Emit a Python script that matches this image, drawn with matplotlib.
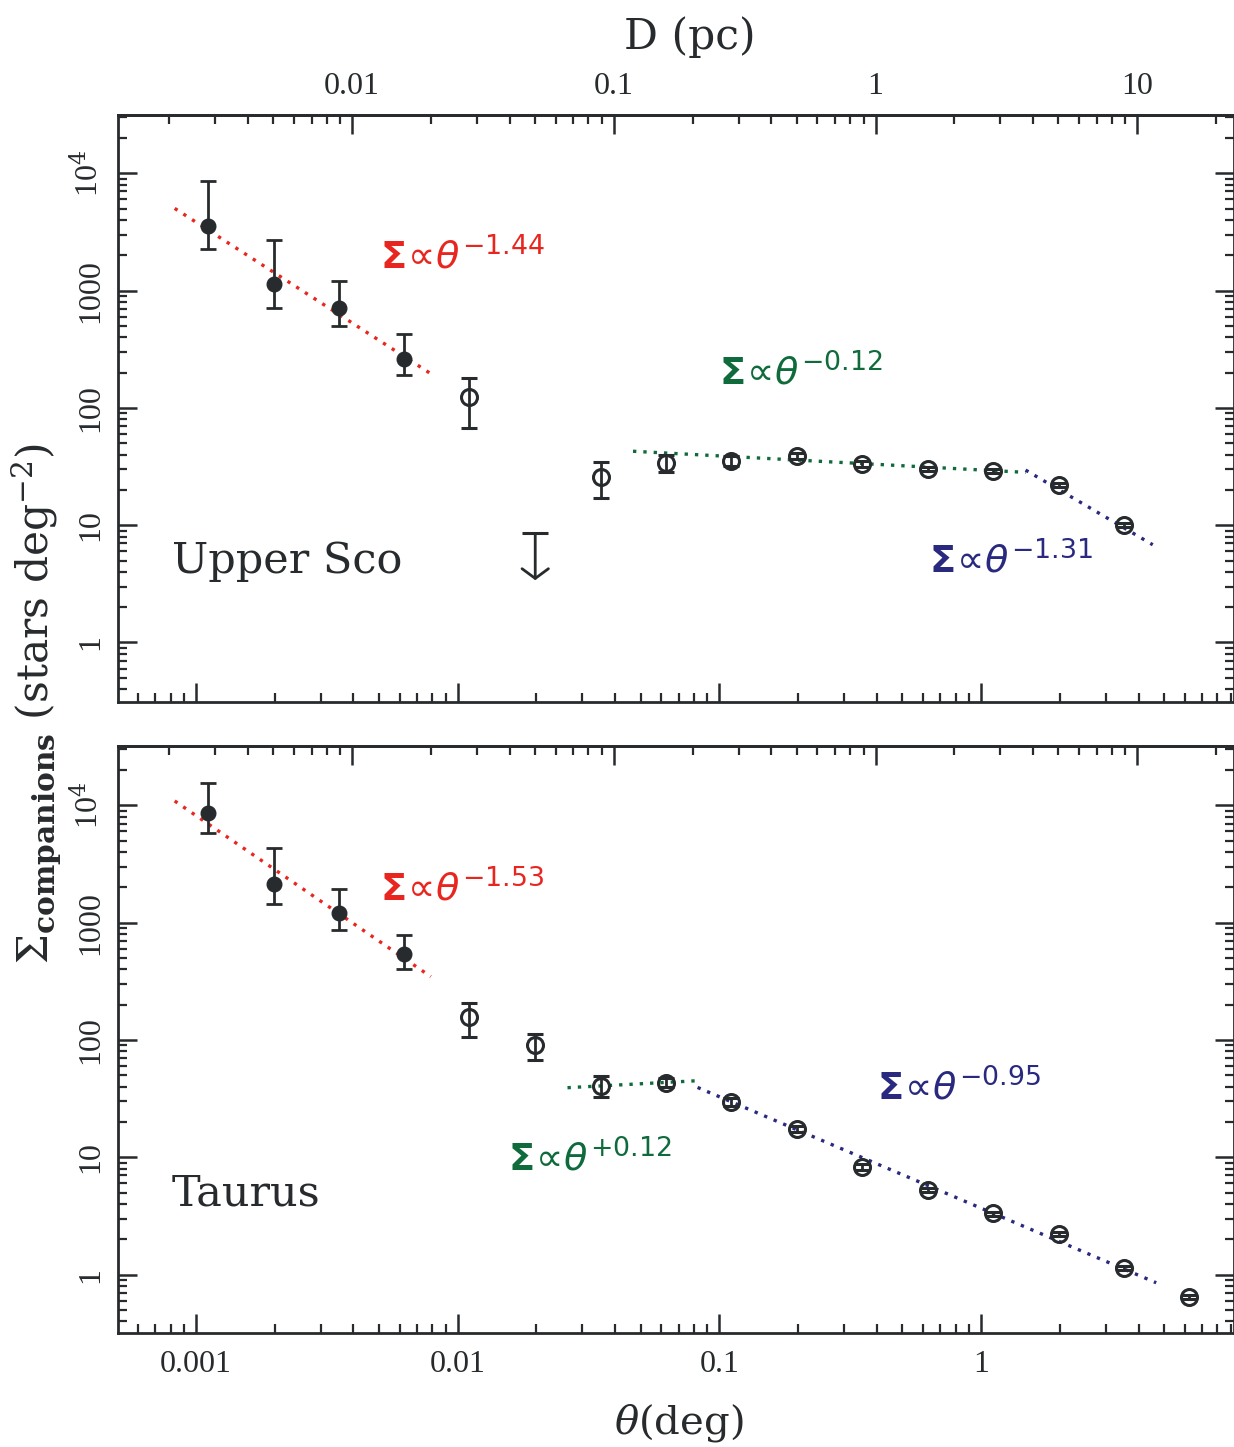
import matplotlib
matplotlib.use("Agg")
import numpy as np
import matplotlib.pyplot as plt
from matplotlib.ticker import FixedLocator, FixedFormatter, LogLocator, NullFormatter

# ---------------- data ----------------
PC_PER_DEG = 2.53  # D (pc) per degree at Upper Sco distance

usco_theta_filled = [0.00111, 0.00198, 0.00352, 0.00625]
usco_sig_filled = [3575, 1130, 713, 262]
usco_hi_filled = [8570, 2680, 1197, 423]
usco_lo_filled = [2250, 710, 501, 191]

usco_theta_open = [0.0111, 0.0352, 0.0625, 0.111, 0.198, 0.352, 0.625, 1.11, 1.98, 3.52]
usco_sig_open = [124, 25.8, 34.0, 35.1, 38.9, 33.1, 30.0, 28.8, 21.8, 10.1]
usco_hi_open = [180, 34.6, 40.0, 38.8, 41.3, 35.1, 31.2, 30.0, 22.7, 10.5]
usco_lo_open = [67.5, 17.1, 28.5, 31.8, 36.6, 31.2, 28.8, 27.7, 21.0, 9.7]

usco_limit_theta = [0.0198]
usco_limit_top = [8.5]
usco_limit_tip = [3.4]

tau_theta_filled = [0.00111, 0.00198, 0.00352, 0.00625]
tau_sig_filled = [8550, 2135, 1200, 537]
tau_hi_filled = [15400, 4300, 1923, 783]
tau_lo_filled = [5840, 1432, 859, 405]

tau_theta_open = [0.0111, 0.0198, 0.0352, 0.0625, 0.111, 0.198, 0.352, 0.625, 1.11, 1.98, 3.52, 6.25]
tau_sig_open = [158, 90.6, 40.7, 43.2, 29.7, 17.3, 8.3, 5.25, 3.32, 2.24, 1.14, 0.64]
tau_hi_open = [205, 112, 49.2, 47.0, 32.1, 18.4, 8.8, 5.46, 3.45, 2.33, 1.19, 0.665]
tau_lo_open = [106, 67.5, 32.8, 39.5, 27.5, 16.3, 7.8, 5.05, 3.19, 2.15, 1.10, 0.615]

# power-law fits: Sigma = norm * (theta/start)^slope between start and end
usco_fit_start = [0.00083, 0.0468, 1.48]
usco_fit_end = [0.0082, 1.48, 4.53]
usco_fit_norm = [5020, 42.7, 29.5]
usco_fit_slope = [-1.44, -0.12, -1.31]

tau_fit_start = [0.00083, 0.0263, 0.0826]
tau_fit_end = [0.0079, 0.0826, 4.67]
tau_fit_norm = [10900, 39.2, 39.4]
tau_fit_slope = [-1.53, 0.12, -0.95]

theta_ticks = [0.001, 0.01, 0.1, 1]
theta_ticklabels = ["0.001", "0.01", "0.1", "1"]
d_ticks = [0.01, 0.1, 1, 10]
d_ticklabels = ["0.01", "0.1", "1", "10"]
y_ticks = [1, 10, 100, 1000, 1e4]
y_ticklabels = ["1", "10", "100", "1000", r"10$^{4}$"]

# ---------------- style ----------------
DARK = "#272b2d"
FIT_COLORS = ["#e8261f", "#0f6b3b", "#29297f"]
plt.rcParams["font.family"] = ["Liberation Serif", "DejaVu Serif"]
plt.rcParams["mathtext.fontset"] = "dejavuserif"

W, H = 1234, 1447
fig = plt.figure(figsize=(W / 100, H / 100), dpi=100)
fig.patch.set_facecolor("white")

x0, x1 = 118, 1233.5
axA = fig.add_axes([x0 / W, 1 - 702 / H, (x1 - x0) / W, (702 - 115) / H])
axB = fig.add_axes([x0 / W, 1 - 1333 / H, (x1 - x0) / W, (1333 - 746) / H])

XLIM = (5.04e-4, 9.22)


def style_axes(ax, ylim, show_xlabels, show_dlabels):
    ax.set_xscale("log")
    ax.set_yscale("log")
    ax.set_xlim(*XLIM)
    ax.set_ylim(*ylim)
    for s in ax.spines.values():
        s.set_linewidth(2.0)
        s.set_color(DARK)
    ax.xaxis.set_major_locator(FixedLocator(theta_ticks))
    ax.xaxis.set_minor_locator(LogLocator(base=10, subs=np.arange(2, 10), numticks=20))
    ax.xaxis.set_minor_formatter(NullFormatter())
    if show_xlabels:
        ax.xaxis.set_major_formatter(FixedFormatter(theta_ticklabels))
    else:
        ax.xaxis.set_major_formatter(NullFormatter())
    ax.yaxis.set_major_locator(FixedLocator(y_ticks))
    ax.yaxis.set_major_formatter(FixedFormatter(y_ticklabels))
    ax.yaxis.set_minor_locator(LogLocator(base=10, subs=np.arange(2, 10), numticks=20))
    ax.yaxis.set_minor_formatter(NullFormatter())
    ax.tick_params(which="both", direction="in", top=False, bottom=True,
                   left=True, right=True, color=DARK, labelcolor=DARK)
    ax.tick_params(which="major", length=14, width=1.8)
    ax.tick_params(which="minor", length=6.5, width=1.6)
    ax.tick_params(axis="x", which="major", labelsize=23, pad=12)
    ax.tick_params(axis="y", which="major", labelsize=23, pad=9)
    for lab in ax.get_yticklabels():
        lab.set_rotation(90)
        lab.set_va("center")
        lab.set_ha("right")

    sec = ax.secondary_xaxis("top", functions=(lambda t: t * PC_PER_DEG,
                                               lambda d: d / PC_PER_DEG))
    sec.xaxis.set_major_locator(FixedLocator(d_ticks))
    sec.xaxis.set_minor_locator(LogLocator(base=10, subs=np.arange(2, 10), numticks=20))
    sec.xaxis.set_minor_formatter(NullFormatter())
    if show_dlabels:
        sec.xaxis.set_major_formatter(FixedFormatter(d_ticklabels))
    else:
        sec.xaxis.set_major_formatter(NullFormatter())
    sec.tick_params(which="both", direction="in", color=DARK, labelcolor=DARK)
    sec.tick_params(which="major", length=14, width=1.8, labelsize=23, pad=10)
    sec.tick_params(which="minor", length=6.5, width=1.6)
    sec.spines["top"].set_linewidth(2.0)
    sec.spines["top"].set_color(DARK)


def draw_points(ax, th, sig, hi, lo, filled):
    sig = np.asarray(sig)
    yerr = np.vstack([sig - np.asarray(lo), np.asarray(hi) - sig])
    if filled:
        ax.errorbar(th, sig, yerr=yerr, fmt="o", ms=10.5, mfc=DARK, mec=DARK,
                    ecolor=DARK, elinewidth=2.0, capsize=5.5, capthick=2.0, zorder=3)
    else:
        ax.errorbar(th, sig, yerr=yerr, fmt="o", ms=11.5, mfc="none", mec=DARK, mew=2.2,
                    ecolor=DARK, elinewidth=2.0, capsize=5.5, capthick=2.0, zorder=3)


def draw_fits(ax, starts, ends, norms, slopes):
    for st, en, nm, sl, col in zip(starts, ends, norms, slopes, FIT_COLORS):
        t = np.array([st, en])
        s = nm * (t / st) ** sl
        ax.plot(t, s, color=col, lw=2.4, ls=(0, (1, 2.1)), zorder=2)


def fit_label(slope):
    expo = ("%+.2f" % slope) if slope > 0 else ("%.2f" % slope)
    return r"$\mathbf{\Sigma}\!\propto\!\theta^{%s}$" % expo


style_axes(axA, (0.311, 31400), show_xlabels=False, show_dlabels=True)
style_axes(axB, (0.318, 32060), show_xlabels=True, show_dlabels=False)

# Upper Sco
draw_fits(axA, usco_fit_start, usco_fit_end, usco_fit_norm, usco_fit_slope)
draw_points(axA, usco_theta_filled, usco_sig_filled, usco_hi_filled, usco_lo_filled, True)
draw_points(axA, usco_theta_open, usco_sig_open, usco_hi_open, usco_lo_open, False)
for th, top, tip in zip(usco_limit_theta, usco_limit_top, usco_limit_tip):
    axA.plot([th], [top], marker="_", ms=19, mew=2.2, color=DARK, zorder=3)
    axA.annotate("", xy=(th, tip), xytext=(th, top),
                 arrowprops=dict(arrowstyle="->,head_length=0.7,head_width=0.95",
                                 lw=2.0, color=DARK, shrinkA=0, shrinkB=0))

# Taurus
draw_fits(axB, tau_fit_start, tau_fit_end, tau_fit_norm, tau_fit_slope)
draw_points(axB, tau_theta_filled, tau_sig_filled, tau_hi_filled, tau_lo_filled, True)
draw_points(axB, tau_theta_open, tau_sig_open, tau_hi_open, tau_lo_open, False)

# fit labels (axes-fraction positions)
lab_kw = dict(fontsize=27.5, math_fontfamily="dejavusans", va="baseline", ha="left")
axA.text(0.235, 0.739, fit_label(usco_fit_slope[0]), color=FIT_COLORS[0], transform=axA.transAxes, **lab_kw)
axA.text(0.539, 0.540, fit_label(usco_fit_slope[1]), color=FIT_COLORS[1], transform=axA.transAxes, **lab_kw)
axA.text(0.727, 0.220, fit_label(usco_fit_slope[2]), color=FIT_COLORS[2], transform=axA.transAxes, **lab_kw)
axB.text(0.235, 0.735, fit_label(tau_fit_slope[0]), color=FIT_COLORS[0], transform=axB.transAxes, **lab_kw)
axB.text(0.350, 0.275, fit_label(tau_fit_slope[1]), color=FIT_COLORS[1], transform=axB.transAxes, **lab_kw)
axB.text(0.680, 0.397, fit_label(tau_fit_slope[2]), color=FIT_COLORS[2], transform=axB.transAxes, **lab_kw)

name_kw = dict(fontsize=31, family="DejaVu Serif", color=DARK, va="baseline", ha="left")
axA.text(0.048, 0.220, "Upper Sco", transform=axA.transAxes, **name_kw)
axB.text(0.048, 0.218, "Taurus", transform=axB.transAxes, **name_kw)

# axis titles
fig.text(690 / W, 1 - 37 / H, "D (pc)", fontsize=30.5, family="DejaVu Serif",
         color=DARK, ha="center", va="center")
fig.text(679 / W, 1 - 1423 / H, r"$\theta$(deg)", fontsize=29, family="DejaVu Serif",
         color=DARK, ha="center", va="center")
fig.text(37 / W, 1 - 704 / H, r"$\Sigma_{\mathbf{companions}}$ (stars deg$^{-2}$)",
         fontsize=30.5, family="DejaVu Serif", color=DARK, ha="center", va="center",
         rotation=90)

fig.savefig("out.png", dpi=100, facecolor="white")
